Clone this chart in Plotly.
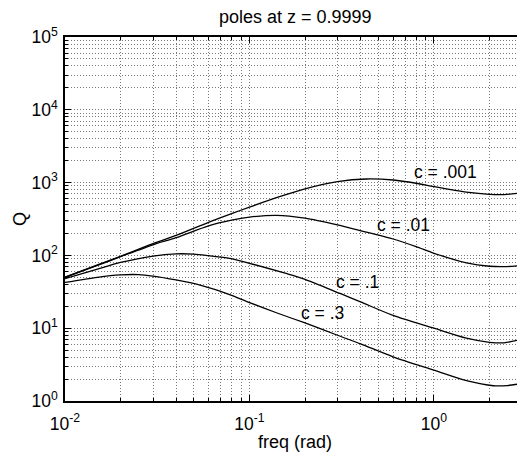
import numpy as np
import plotly.graph_objects as go

# frequency samples (rad) and Q values
freq = [0.01, 0.015, 0.02, 0.03, 0.04, 0.06, 0.08, 0.1, 0.14, 0.2, 0.3, 0.43,
        0.6, 0.8, 1.0, 1.5, 2.0, 2.4, 2.82]
q_c001 = [50, 74, 97, 145, 188, 285, 375, 460, 620, 820, 1030, 1120,
          1085, 980, 880, 740, 690, 685, 710]
q_c01 = [50, 73, 96, 140, 175, 255, 305, 335, 355, 325, 262, 208,
         168, 132, 107, 79, 71, 70, 72]

freq_b = [0.01, 0.015, 0.02, 0.03, 0.04, 0.05, 0.06, 0.078, 0.1, 0.156, 0.2,
          0.31, 0.4, 0.6, 1.0, 1.5, 2.0, 2.4, 2.82]
q_c1 = [48, 65, 80, 98, 105, 104, 99, 91, 78, 57, 47,
        30, 23, 15, 10, 7.3, 6.4, 6.3, 6.8]

freq_c = [0.01, 0.015, 0.02, 0.025, 0.03, 0.04, 0.054, 0.078, 0.1, 0.14, 0.2,
          0.3, 0.4, 0.6, 1.0, 1.5, 2.1, 2.5, 2.82]
q_c3 = [42.5, 50, 54, 54.5, 52, 46, 39, 29, 22.5, 16.3, 11.8,
        8, 6.1, 4.05, 2.65, 1.9, 1.62, 1.63, 1.7]

labels = ["c = .001", "c = .01", "c = .1", "c = .3"]
x_tick_vals = [0.01, 0.1, 1]
x_tick_text = ["10<sup>-2</sup>", "10<sup>-1</sup>", "10<sup>0</sup>"]
y_tick_vals = [1, 10, 100, 1000, 10000, 100000]
y_tick_text = ["10<sup>0</sup>", "10<sup>1</sup>", "10<sup>2</sup>",
               "10<sup>3</sup>", "10<sup>4</sup>", "10<sup>5</sup>"]

FONT = "Liberation Sans, Arial, Helvetica, sans-serif"
fig = go.Figure()
for xs, ys in [(freq, q_c001), (freq, q_c01), (freq_b, q_c1), (freq_c, q_c3)]:
    fig.add_trace(go.Scatter(x=xs, y=ys, mode="lines",
                             line=dict(color="black", width=1.3, shape="spline", smoothing=0.8),
                             showlegend=False, hoverinfo="skip"))

label_pos = [(0.76, 1400), (0.479, 262), (0.287, 43), (0.185, 16.2)]
for txt, (lx, ly) in zip(labels, label_pos):
    fig.add_annotation(x=np.log10(lx), y=np.log10(ly), text=txt, showarrow=False,
                       xanchor="left", yanchor="middle",
                       font=dict(family=FONT, size=17.5, color="black"))

grid = dict(showgrid=True, gridcolor="rgb(120,120,120)", griddash="1px,2px", gridwidth=1)
fig.update_xaxes(type="log", range=[-2, np.log10(2.82)],
                 tickmode="array", tickvals=x_tick_vals, ticktext=x_tick_text,
                 ticks="inside", ticklen=6, tickcolor="black", ticklabelstandoff=6,
                 showline=True, linecolor="black", linewidth=1.5, mirror="ticks",
                 zeroline=False,
                 minor=dict(dtick="D1", ticks="inside", ticklen=3, tickcolor="black", **grid),
                 tickfont=dict(family=FONT, size=17.5, color="black"), **grid)
fig.update_yaxes(type="log", range=[0, 5],
                 tickmode="array", tickvals=y_tick_vals, ticktext=y_tick_text,
                 ticks="inside", ticklen=6, tickcolor="black", ticklabelstandoff=2,
                 showline=True, linecolor="black", linewidth=1.5, mirror=False,
                 zeroline=False,
                 minor=dict(dtick="D1", ticks="inside", ticklen=3, tickcolor="black", **grid),
                 tickfont=dict(family=FONT, size=17.5, color="black"), **grid)

fig.add_annotation(xref="paper", yref="paper", x=0.509, y=1, yshift=20,
                   text="poles at z = 0.9999", showarrow=False,
                   xanchor="center", yanchor="middle",
                   font=dict(family=FONT, size=18, color="black"))
fig.add_annotation(xref="paper", yref="paper", x=0.509, y=0, yshift=-41,
                   text="freq (rad)", showarrow=False,
                   xanchor="center", yanchor="middle",
                   font=dict(family=FONT, size=18, color="black"))
fig.add_annotation(xref="paper", yref="paper", x=0, xshift=-45, y=0.5,
                   text="Q", showarrow=False, textangle=-90,
                   xanchor="center", yanchor="middle",
                   font=dict(family=FONT, size=18, color="black"))

fig.update_layout(width=517, height=452,
                  margin=dict(l=65, r=0, t=37, b=51),
                  paper_bgcolor="white", plot_bgcolor="white")
fig.write_html("out.html")
